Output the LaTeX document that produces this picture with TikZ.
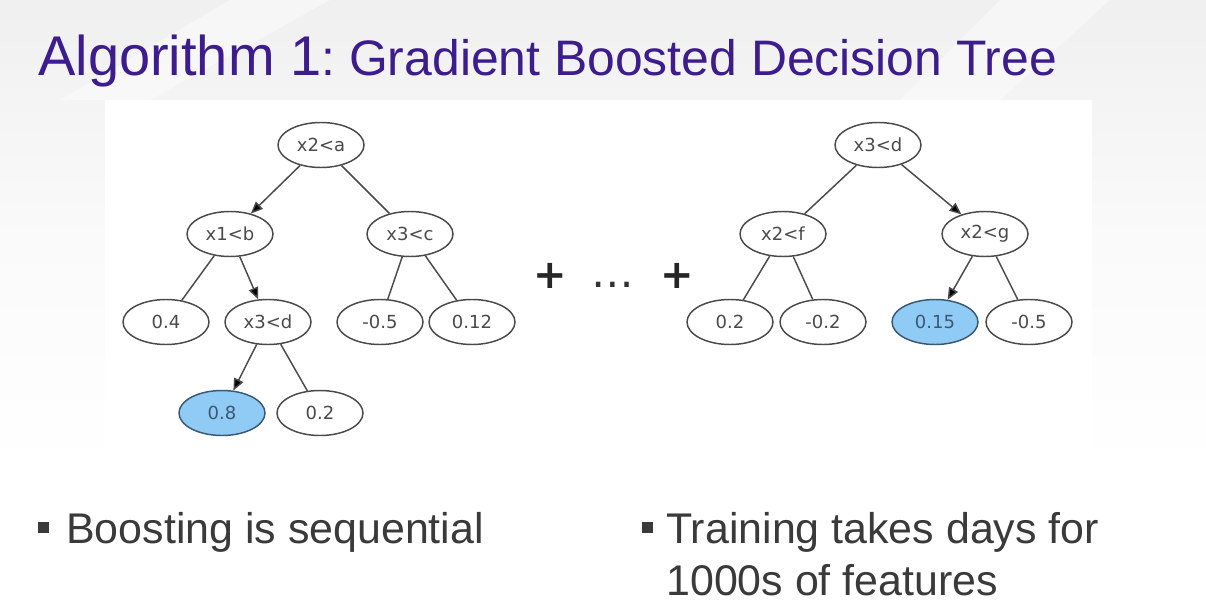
\documentclass[tikz,border=0pt]{standalone}
\usepackage{fontspec}
\setmainfont{Liberation Sans}
\newfontfamily\nodefont{DejaVu Sans}
\usetikzlibrary{shapes.geometric,arrows.meta}
\definecolor{titlepurple}{HTML}{3D1C8E}
\definecolor{edgegray}{HTML}{4A4A4A}
\definecolor{nodetext}{HTML}{4A4A4A}
\definecolor{leafblue}{HTML}{8FCBF5}
\definecolor{leafborder}{HTML}{3B5873}
\definecolor{bodytext}{HTML}{3A3A3A}
\begin{document}
\begin{tikzpicture}[x=0.75pt,y=-0.75pt,
  tnode/.style={ellipse,draw=edgegray,line width=1.1pt,fill=white,
    minimum width=64.5pt,minimum height=33.75pt,inner sep=0pt,
    font=\nodefont\fontsize{13.5}{16}\selectfont,text=nodetext},
  hit/.style={tnode,fill=leafblue,draw=leafborder,text=leafborder},
  tline/.style={draw=edgegray,line width=1.1pt},
  tarrow/.style={tline,-{Triangle[length=9pt,width=7.5pt,fill=black]}},
  bullettext/.style={anchor=base west,inner sep=0pt,text=bodytext,
    font=\fontsize{32.2}{36}\selectfont},
  bulletsq/.style={fill=bodytext,draw=none},
  opsym/.style={inner sep=0pt,text=black!85,font=\nodefont\bfseries\fontsize{30}{36}\selectfont},
  dotsym/.style={inner sep=0pt,text=black!80,font=\nodefont\fontsize{32}{36}\selectfont}
]
\useasboundingbox (0,0) rectangle (1206,610);
% background
\shade[top color=black!6,bottom color=white,middle color=black!2] (0,0) rectangle (1206,470);
\fill[white,opacity=0.45] (230,0) -- (330,0) -- (150,100) -- (60,100) -- cycle;
\fill[white,opacity=0.4] (1000,0) -- (1110,0) -- (1000,100) -- (900,100) -- cycle;
\fill[white] (0,470) rectangle (1206,610);
\fill[white] (105,100) rectangle (1092,460);

% title
\node[anchor=base west,inner sep=0pt,text=titlepurple] (title) at (38,75)
  {{\fontsize{42}{50}\selectfont Algorithm 1}{\fontsize{37.4}{44}\selectfont :\ Gradient Boosted Decision Tree}};

% tree 1
\node[tnode] (a) at (321,145) {x2<a};
\node[tnode] (b) at (230,234) {x1<b};
\node[tnode] (c) at (410,234) {x3<c};
\node[tnode] (l04) at (166,322) {0.4};
\node[tnode] (d) at (268,322) {x3<d};
\node[tnode] (lm05) at (380,322) {-0.5};
\node[tnode] (l012) at (472,322) {0.12};
\node[hit] (l08) at (222,413) {0.8};
\node[tnode] (l02) at (320,413) {0.2};

\draw[tarrow] (a) -- (b);
\draw[tline] (a) -- (c);
\draw[tline] (b) -- (l04);
\draw[tarrow] (b) -- (d);
\draw[tline] (c) -- (lm05);
\draw[tline] (c) -- (l012);
\draw[tarrow] (d) -- (l08);
\draw[tline] (d) -- (l02);

% operators
\node[opsym] (plus1) at (550,276) {+};
\node[dotsym,anchor=base] (dots) at (613,287) {…};
\node[opsym] (plus2) at (677,276) {+};

% tree 2
\node[tnode] (r) at (878,145) {x3<d};
\node[tnode] (f) at (783,234) {x2<f};
\node[tnode] (g) at (985,234) {x2<g};
\node[tnode] (r02) at (730,322) {0.2};
\node[tnode] (rm02) at (823,322) {-0.2};
\node[hit] (r015) at (935,322) {0.15};
\node[tnode] (rm05) at (1029,322) {-0.5};

\draw[tline] (r) -- (f);
\draw[tarrow] (r) -- (g);
\draw[tline] (f) -- (r02);
\draw[tline] (f) -- (rm02);
\draw[tarrow] (g) -- (r015);
\draw[tline] (g) -- (rm05);

% bullets
\fill[bulletsq] (38,522) rectangle (49,533);
\node[bullettext] (b1) at (66,543) {Boosting is sequential};
\fill[bulletsq] (642,522) rectangle (653,533);
\node[bullettext] (b2) at (666,543) {Training takes days for};
\node[bullettext] (b3) at (666,595) {1000s of features};
\end{tikzpicture}
\end{document}
